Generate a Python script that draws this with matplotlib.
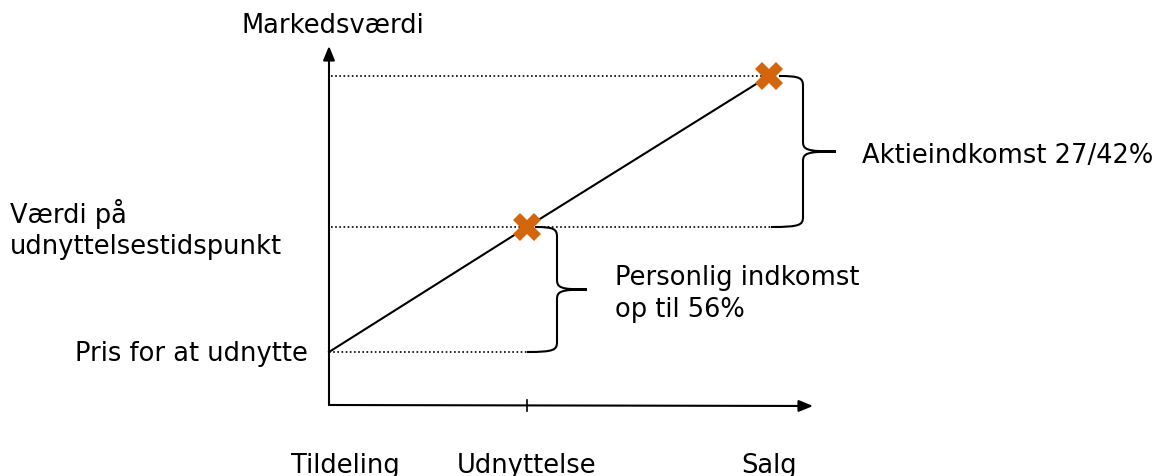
import matplotlib
matplotlib.use("Agg")
import matplotlib.pyplot as plt
from matplotlib.path import Path
from matplotlib.patches import PathPatch

plt.rcParams['font.family'] = ['DejaVu Sans']

# --- data (diagram units) ---
stages = ["Tildeling", "Udnyttelse", "Salg"]
stage_time = [0, 198, 440]          # position of each stage on the time axis
stage_value = [53, 178, 329]        # market value at each stage
marker_stages = [1, 2]              # stages marked with a cross
y_axis_label = "Markedsværdi"
value_labels = ["Pris for at udnytte", "Værdi på\nudnyttelsestidspunkt"]
brace_labels = ["Personlig indkomst\nop til 56%", "Aktieindkomst 27/42%"]

W, H = 1164, 477
fig = plt.figure(figsize=(W / 100, H / 100), dpi=100)
ax = fig.add_axes([0, 0, 1, 1])
ax.set_xlim(-329, W - 329)
ax.set_ylim(-(H - 406), 406)
ax.axis('off')

fs = 18.5
orange = '#D4650A'

# axes with arrows
arrow = dict(arrowstyle='-|>,head_length=0.85,head_width=0.35', color='black', lw=1.5,
             shrinkA=0, shrinkB=0)
ax.annotate('', xy=(0, 359), xytext=(0, 0), arrowprops=arrow)
ax.annotate('', xy=(484, -1), xytext=(0, 0), arrowprops=arrow)

# tick at Udnyttelse
ax.plot([stage_time[1], stage_time[1]], [-6, 5], color='black', lw=1.2)

# dotted helper lines
dot = dict(color='black', lw=1.2, ls=(0, (1, 1.5)))
ax.plot([2, stage_time[2]], [stage_value[2], stage_value[2]], **dot)
ax.plot([2, stage_time[2] + 2], [stage_value[1], stage_value[1]], **dot)
ax.plot([0, stage_time[1]], [stage_value[0], stage_value[0]], **dot)

# value line
ax.plot(stage_time, stage_value, color='black', lw=1.5, zorder=3)
ax.plot([stage_time[i] for i in marker_stages], [stage_value[i] for i in marker_stages],
        ls='none', marker='X', ms=20, mew=0, color=orange, zorder=4)


def brace(x_start_top, x_start_bot, xv, xt, yt, yb, r=10):
    ym = (yt + yb) / 2
    verts = [
        (x_start_top, yt),
        (xv - 3, yt), (xv, yt - 2), (xv, yt - r),
        (xv, ym + r),
        (xv, ym + 2), (xv + 3, ym), (xt, ym),
        (xv + 3, ym), (xv, ym - 2), (xv, ym - r),
        (xv, yb + r),
        (xv, yb + 2), (xv - 3, yb), (x_start_bot, yb),
    ]
    codes = [Path.MOVETO,
             Path.CURVE4, Path.CURVE4, Path.CURVE4,
             Path.LINETO,
             Path.CURVE4, Path.CURVE4, Path.CURVE4,
             Path.CURVE4, Path.CURVE4, Path.CURVE4,
             Path.LINETO,
             Path.CURVE4, Path.CURVE4, Path.CURVE4]
    ax.add_patch(PathPatch(Path(verts, codes), fill=False, lw=1.5, color='black', zorder=2))


t1 = stage_time[1]
t2 = stage_time[2]
brace(t1 + 8, t1, t1 + 30, t1 + 60, stage_value[1], stage_value[0])
brace(t2 + 10, t2 + 2, t2 + 34, t2 + 67, stage_value[2], stage_value[1])

# texts
ax.text(4, 380, y_axis_label, ha='center', va='center', fontsize=fs)
ax.text(-21, stage_value[0] - 1, value_labels[0], ha='right', va='center', fontsize=fs)
ax.text(-319, 177, value_labels[1], ha='left', va='center', fontsize=fs, linespacing=1.25)
ax.text(286, 112, brace_labels[0], ha='left', va='center', fontsize=fs, linespacing=1.3)
ax.text(533, 250, brace_labels[1], ha='left', va='center', fontsize=fs)
for name, t in zip(stages, stage_time):
    ax.text(t + (16 if t == 0 else 0), -60, name, ha='center', va='center', fontsize=fs)

fig.savefig('out.png', dpi=100)
